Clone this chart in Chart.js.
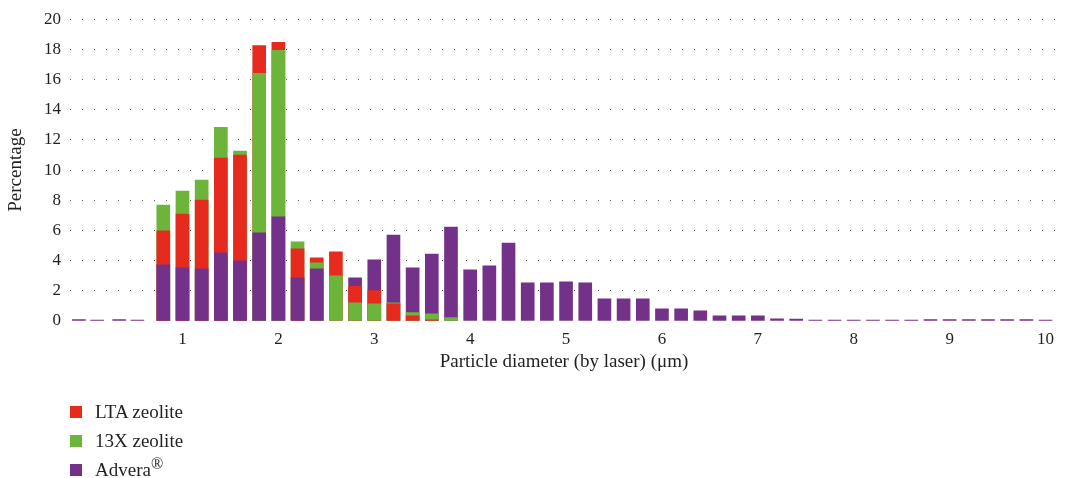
<!DOCTYPE html>
<html>
<head>
<meta charset="utf-8">
<script src="https://cdn.jsdelivr.net/npm/chart.js@4.4.1/dist/chart.umd.min.js"></script>
<style>
  body { margin: 0; background: #fff; }
  #wrap { position: relative; width: 1066px; height: 478px; }
  #legend {
    position: absolute; left: 70px; top: 397px;
    font-family: 'Liberation Serif', serif; font-size: 19px; color: #231f20;
  }
  .item { display: flex; align-items: center; height: 29px; }
  .box { width: 12px; height: 12px; margin-right: 13px; }
  sup { font-size: 0.85em; line-height: 0; }
</style>
</head>
<body>
<div id="wrap">
  <canvas id="chart" width="1066" height="478"></canvas>
  <div id="legend"></div>
</div>
<script>
// bar positions on the diameter axis (µm)
const diameters = [-0.08, 0.11, 0.34, 0.53,
  0.8, 1.0, 1.2, 1.4, 1.6, 1.8, 2.0, 2.2, 2.4, 2.6, 2.8,
  3.0, 3.2, 3.4, 3.6, 3.8, 4.0, 4.2, 4.4, 4.6, 4.8,
  5.0, 5.2, 5.4, 5.6, 5.8, 6.0, 6.2, 6.4, 6.6, 6.8,
  7.0, 7.2, 7.4, 7.6, 7.8, 8.0, 8.2, 8.4, 8.6, 8.8,
  9.0, 9.2, 9.4, 9.6, 9.8, 10.0];

const lta = [0, 0, 0, 0,
  5.97, 7.09, 8.02, 10.80, 10.99, 18.26, 18.46, 4.78, 4.19, 4.58, 2.29,
  2.02, 1.14, 0.35, 0.08, 0, 0, 0, 0, 0, 0,
  0, 0, 0, 0, 0, 0, 0, 0, 0, 0,
  0, 0, 0, 0, 0, 0, 0, 0, 0, 0,
  0, 0, 0, 0, 0, 0];

const x13 = [0, 0, 0, 0,
  7.69, 8.61, 9.34, 12.84, 11.26, 16.41, 17.93, 5.24, 3.86, 3.00, 1.21,
  1.14, 1.21, 0.55, 0.48, 0.22, 0, 0, 0, 0, 0,
  0, 0, 0, 0, 0, 0, 0, 0, 0, 0,
  0, 0, 0, 0, 0, 0, 0, 0, 0, 0,
  0, 0, 0, 0, 0, 0];

const advera = [0.1, 0.06, 0.1, 0.06,
  3.72, 3.52, 3.46, 4.52, 3.99, 5.84, 6.90, 2.86, 3.46, 0, 2.86,
  4.05, 5.70, 3.52, 4.44, 6.23, 3.39, 3.65, 5.17, 2.53, 2.53,
  2.60, 2.53, 1.47, 1.47, 1.47, 0.81, 0.81, 0.68, 0.35, 0.35,
  0.35, 0.15, 0.12, 0.06, 0.06, 0.06, 0.06, 0.06, 0.06, 0.1,
  0.1, 0.1, 0.1, 0.1, 0.1, 0.06];

const xTicks = [1, 2, 3, 4, 5, 6, 7, 8, 9, 10];
const yTicks = [0, 2, 4, 6, 8, 10, 12, 14, 16, 18, 20];

const series = [
  { label: 'LTA zeolite', data: lta, color: '#e62b1e' },
  { label: '13X zeolite', data: x13, color: '#6cb43a' },
  { label: 'Advera<sup>®</sup>', data: advera, color: '#74318a' }
];

// bars overlap from zero, the smallest one is always in front
let layers = [[], [], []];
diameters.forEach((d, i) => {
  let sorted = series.map(s => ({ y: s.data[i], color: s.color }))
    .sort((a, b) => a.y - b.y);
  sorted.forEach((p, k) => layers[k].push({ x: d, y: p.y || null, color: p.color }));
});

const font = 'Liberation Serif';
const textColor = '#231f20';

new Chart(document.getElementById('chart'), {
  type: 'bar',
  data: {
    datasets: layers.map(pts => ({
      data: pts.map(p => ({ x: p.x, y: p.y })),
      backgroundColor: pts.map(p => p.color),
      grouped: false,
      barThickness: 13,
      borderWidth: 0
    }))
  },
  options: {
    responsive: false,
    animation: false,
    layout: { padding: { left: 0, right: 8, top: 0, bottom: 100 } },
    plugins: { legend: { display: false }, tooltip: { enabled: false } },
    scales: {
      x: {
        type: 'linear',
        offset: false,
        min: -0.173,
        max: 10.13,
        afterBuildTicks: scale => { scale.ticks = xTicks.map(v => ({ value: v })); },
        afterFit: scale => { scale.height = 57; },
        grid: { display: false, drawTicks: false },
        border: { display: false },
        ticks: { padding: 8, color: textColor, font: { family: font, size: 17 }, maxRotation: 0 },
        title: {
          display: true,
          text: 'Particle diameter (by laser) (μm)',
          color: textColor,
          font: { family: font, size: 19 },
          padding: { top: 0, bottom: 5 }
        }
      },
      y: {
        min: 0,
        max: 20,
        afterBuildTicks: scale => { scale.ticks = yTicks.map(v => ({ value: v })); },
        afterFit: scale => { scale.width = 70; },
        grid: {
          drawTicks: false,
          color: ctx => ctx.tick && ctx.tick.value === 0 ? 'rgba(0,0,0,0)' : '#555',
          lineWidth: 1
        },
        border: { display: false, dash: [1, 11] },
        ticks: { padding: 9, color: textColor, font: { family: font, size: 17 } },
        title: {
          display: true,
          text: 'Percentage',
          color: textColor,
          font: { family: font, size: 19 },
          padding: { top: 5, bottom: 0 }
        }
      }
    }
  }
});

let legend = document.getElementById('legend');
series.forEach(s => {
  let item = document.createElement('div');
  item.className = 'item';
  item.innerHTML = '<span class="box" style="background:' + s.color + '"></span><span>' + s.label + '</span>';
  legend.appendChild(item);
});
</script>
</body>
</html>
